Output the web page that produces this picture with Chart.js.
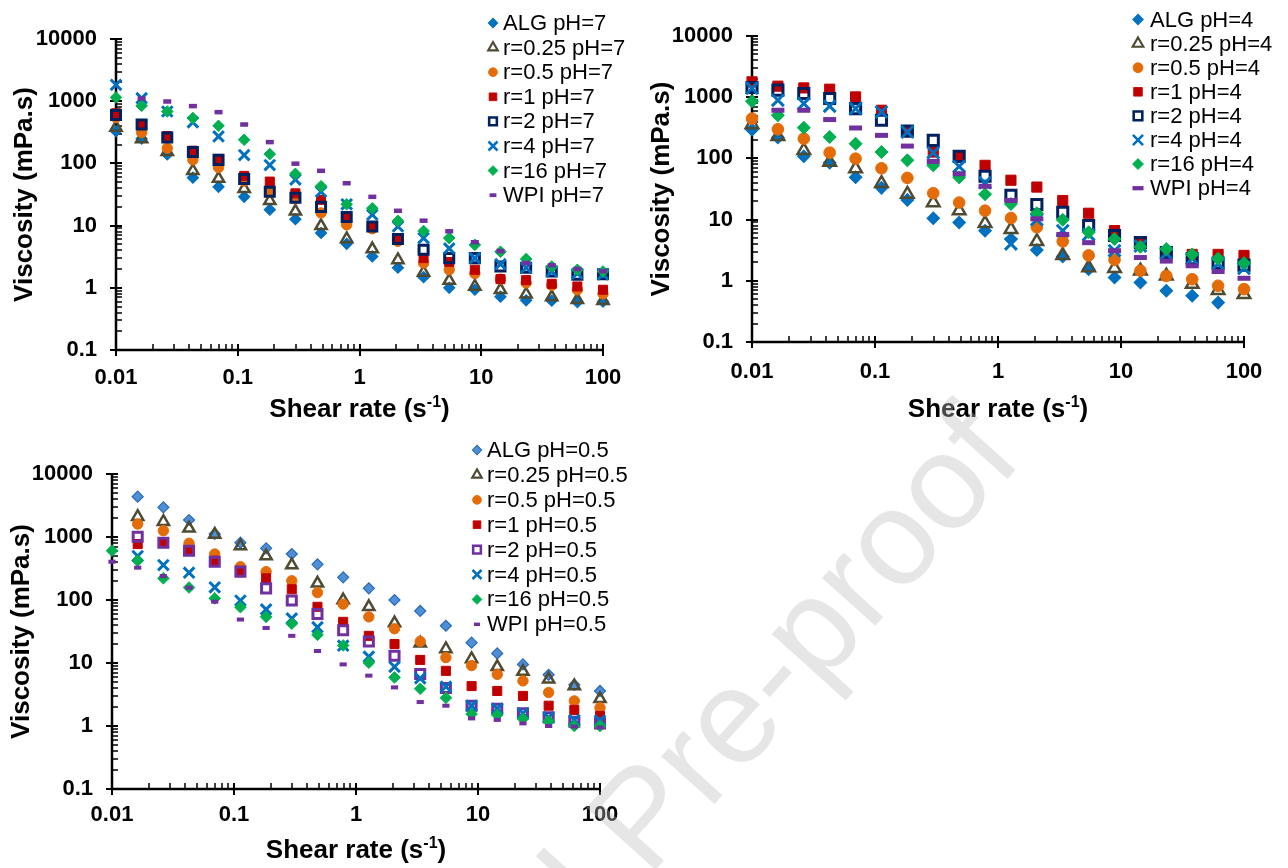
<!DOCTYPE html>
<html>
<head>
<meta charset="utf-8">
<title>Viscosity vs shear rate</title>
<script src="https://cdn.jsdelivr.net/npm/chart.js@4.4.1/dist/chart.umd.min.js"></script>
<style>
  body { margin: 0; width: 1288px; height: 868px; overflow: hidden; position: relative; background: #fff; }
  canvas { position: absolute; }
  #wm { position: absolute; left: 0; top: 0; pointer-events: none; }
</style>
</head>
<body>
<canvas id="ph7" width="644" height="430" style="left:0px;top:0px"></canvas>
<canvas id="ph4" width="648" height="430" style="left:640px;top:0px"></canvas>
<canvas id="ph05" width="644" height="438" style="left:0px;top:430px"></canvas>
<svg id="wm" width="1288" height="868">
  <g transform="rotate(-48 648 878)" font-family="Arial, 'Liberation Sans', sans-serif" font-size="135" fill="#bdbdbd" fill-opacity="0.38">
    <text x="610" y="878" text-anchor="end">Journal</text>
    <text x="648" y="878">Pre-proof</text>
  </g>
</svg>
<script>
// shear rate (1/s), 20 points log ramp 0.01 -> 100
var shearRate = [0.01, 0.01624, 0.02637, 0.04281, 0.06952, 0.1129, 0.1833, 0.2976, 0.4833, 0.7848,
                 1.274, 2.069, 3.360, 5.456, 8.859, 14.38, 23.36, 37.93, 61.58, 100];
var shearTicks = [0.01, 0.1, 1, 10, 100];
var viscTicks = [0.1, 1, 10, 100, 1000, 10000];
var seriesNames = ["ALG", "r=0.25", "r=0.5", "r=1", "r=2", "r=4", "r=16", "WPI"];

// viscosity (mPa.s) at pH 7
var alg7   = [330, 250, 139, 59, 42, 29, 18, 12.7, 7.6, 5.1, 3.2, 2.1, 1.48, 1.0, 0.93, 0.72, 0.63, 0.62, 0.59, 0.6];
var r025_7 = [378, 246, 154, 76, 57, 39, 25, 17, 9.9, 6.1, 4.2, 2.8, 1.76, 1.31, 1.05, 0.93, 0.79, 0.71, 0.64, 0.62];
var r05_7  = [550, 313, 176, 114, 86, 52, 34, 27, 16, 10.3, 8.9, 5.6, 2.5, 1.95, 1.7, 1.38, 1.2, 1.1, 0.93, 0.8];
var r1_7   = [640, 430, 275, 160, 118, 63, 51, 33, 26, 13.7, 9.5, 6.0, 3.0, 2.6, 1.95, 1.38, 1.33, 1.16, 1.05, 0.93];
var r2_7   = [600, 422, 261, 152, 114, 56, 35, 28, 20, 13.7, 9.7, 6.1, 4.1, 3.0, 3.0, 2.2, 2.1, 1.83, 1.62, 1.65];
var r4_7   = [1836, 1120, 683, 457, 271, 136, 94, 55, 35, 22, 15, 9.7, 6.3, 4.3, 3.0, 2.4, 2.1, 1.83, 1.7, 1.65];
var r16_7  = [1148, 843, 683, 535, 402, 240, 141, 68, 43, 22, 19, 11.9, 8.2, 6.3, 4.9, 3.8, 2.9, 2.2, 1.95, 1.83];
var wpi7   = [null, 1100, 989, 834, 667, 422, 220, 99, 76, 48, 29, 17.3, 12, 8.1, 5.4, 3.9, 2.5, 2.3, 2.0, 1.85];

// viscosity (mPa.s) at pH 4
var alg4   = [295, 220, 108, 85, 49, 33, 21, 10.5, 9.0, 6.6, 4.8, 3.2, 2.5, 1.55, 1.13, 0.94, 0.69, 0.57, 0.44, null];
var r025_4 = [357, 230, 135, 87, 68, 39, 26, 19, 14, 8.7, 6.9, 4.4, 2.6, 1.65, 1.6, 1.45, 1.2, 0.88, 0.7, 0.6];
var r05_4  = [447, 299, 210, 124, 99, 69, 48, 27, 19, 14, 10.6, 7.5, 4.4, 2.6, 2.2, 1.46, 1.2, 1.06, 0.83, 0.73];
var r1_4   = [1782, 1514, 1419, 1352, 1011, 612, 270, 127, 108, 77, 44, 34, 20.5, 12.7, 6.6, 4.0, 3.0, 2.7, 2.7, 2.6];
var r2_4   = [1442, 1303, 1150, 951, 652, 420, 280, 197, 108, 51, 25, 17.6, 13.2, 8.0, 5.5, 4.2, 2.9, 2.3, 1.95, 1.8];
var r4_4   = [1400, 893, 788, 712, 652, 575, 270, 124, 74, 40, 4.0, 10, 6.6, 5.7, 3.1, 3.7, 2.8, 2.3, 1.9, 1.6];
var r16_4  = [860, 507, 318, 224, 174, 127, 93, 77, 49, 26, 18, 12.7, 9.9, 6.2, 4.8, 3.6, 3.3, 2.7, 2.3, 1.95];
var wpi4   = [null, 612, 612, 431, 314, 238, 159, 89, 56, 35, 20.5, 10.3, 5.7, 4.2, 3.1, 2.4, 2.1, 1.76, 1.42, 1.1];

// viscosity (mPa.s) at pH 0.5
var alg05   = [null, 4365, 2958, 1862, 1116, 813, 661, 537, 368, 229, 153, 100, 67, 39, 21, 14.2, 9.5, 6.5, 4.5, 3.6];
var r025_05 = [null, 2103, 1750, 1374, 1100, 719, 499, 359, 184, 100, 78, 43, 20.5, 16.7, 11.6, 8.7, 7.3, 5.5, 4.3, 2.7];
var r05_05  = [null, 1608, 1259, 794, 537, 338, 282, 202, 131, 86, 54, 35, 22, 12.2, 9.1, 6.6, 5.2, 3.4, 2.5, 1.95];
var r1_05   = [null, 774, 813, 620, 420, 280, 221, 148, 78, 45, 27, 20, 11.2, 7.5, 4.3, 3.6, 3.0, 2.1, 1.8, 1.44];
var r2_05   = [null, 1012, 813, 607, 405, 282, 153, 98, 60, 33, 22, 13, 6.7, 4.0, 2.1, 1.88, 1.59, 1.37, 1.17, 1.1];
var r4_05   = [null, 499, 359, 271, 159, 98, 71, 51, 37, 18.8, 12.6, 8.7, 5.7, 4.2, 2.1, 1.88, 1.59, 1.37, 1.24, 1.22];
var r16_05  = [607, 421, 221, 158, 106, 77, 54, 42, 28, 19, 10.1, 5.9, 3.9, 2.8, 1.55, 1.5, 1.3, 1.2, 1.0, 1.0];
var wpi05   = [405, 326, 240, 157, 94, 49, 36, 27, 15.5, 9.5, 6.3, 4.1, 2.4, 2.1, 1.32, 1.25, 1.1, 1.0, 0.98, 0.95];

var FONT = "Arial, 'Liberation Sans', sans-serif";

function styleSet(k, algFill, algLine, sqColor) {
  return [
    { shape: "rectRot",  r: 5.5 * k, fill: algFill, line: algLine, bw: 1.2 },
    { shape: "triangle", r: 6.5 * k, fill: "rgba(255,255,255,0)", line: "#4F4B33", bw: 2.5 },
    { shape: "circle",   r: 5.2 * k, fill: "#E36C09", line: "#E36C09", bw: 1 },
    { shape: "rect",     r: 6.4 * k, fill: "#C00000", line: "#C00000", bw: 1 },
    { shape: "rect",     r: 6.4 * k, fill: "rgba(255,255,255,0)", line: sqColor, bw: 3 },
    { shape: "crossRot", r: 7.5 * k, fill: "#0070C0", line: "#0070C0", bw: 3 },
    { shape: "rectRot",  r: 5.8 * k, fill: "#00B050", line: "#00B050", bw: 1 },
    { shape: "line",     r: 4 * k,   fill: "#7030A0", line: "#7030A0", bw: 4.5 }
  ];
}

var styles4 = styleSet(1.12, "#0070C0", "#0070C0", "#002060");
styles4[7] = { shape: "line", r: 6.5, fill: "#7030A0", line: "#7030A0", bw: 5 };

var panels = {
  ph7: {
    ph: "7", series: [alg7, r025_7, r05_7, r1_7, r2_7, r4_7, r16_7, wpi7],
    styles: styleSet(1, "#0070C0", "#0070C0", "#002060"),
    yWidth: 116, xHeight: 80, padTop: 39, padRight: 41, xTickPad: 15, yTitlePad: 9,
    titleY: 408, legend: { mx: 493, tx: 503, y: 23, dy: 24.6 }
  },
  ph4: {
    ph: "4", series: [alg4, r025_4, r05_4, r1_4, r2_4, r4_4, r16_4, wpi4],
    styles: styles4,
    yWidth: 112, xHeight: 88, padTop: 36, padRight: 44, xTickPad: 17, yTitlePad: 6,
    titleY: 408, legend: { mx: 498, tx: 510, y: 19.5, dy: 24.1 }
  },
  ph05: {
    ph: "0.5", series: [alg05, r025_05, r05_05, r1_05, r2_05, r4_05, r16_05, wpi05],
    styles: styleSet(1, "#4F8FD6", "#2A6AB8", "#7030A0"),
    yWidth: 112, xHeight: 79, padTop: 44, padRight: 44, xTickPad: 13, yTitlePad: 6,
    titleY: 419, legend: { mx: 477, tx: 487, y: 20, dy: 24.9 }
  }
};
panels.ph05.styles[7] = { shape: "line", r: 3.6, fill: "#7030A0", line: "#7030A0", bw: 4 };

function drawMarker(ctx, st, x, y, k) {
  ctx.fillStyle = st.fill;
  ctx.strokeStyle = st.line;
  ctx.lineWidth = st.bw * k;
  Chart.helpers.drawPoint(ctx, { pointStyle: st.shape, radius: st.r * k, rotation: 0, borderWidth: st.bw }, x, y);
}

var decor = {
  id: "decor",
  beforeDatasetsDraw: function (chart) {
    var ctx = chart.ctx, a = chart.chartArea;
    var xs = chart.scales.x, ys = chart.scales.y;
    var e, k, px, py;
    ctx.save();
    ctx.strokeStyle = "#000";
    // minor ticks, inside
    ctx.lineWidth = 1.5;
    ctx.beginPath();
    for (e = -2; e < 2; e++) {
      for (k = 2; k < 10; k++) {
        px = Math.round(xs.getPixelForValue(k * Math.pow(10, e)));
        ctx.moveTo(px, a.bottom);
        ctx.lineTo(px, a.bottom - 6);
      }
    }
    for (e = -1; e < 4; e++) {
      for (k = 2; k < 10; k++) {
        py = Math.round(ys.getPixelForValue(k * Math.pow(10, e)));
        ctx.moveTo(a.left, py);
        ctx.lineTo(a.left + 6, py);
      }
    }
    ctx.stroke();
    // major ticks, crossing
    ctx.lineWidth = 2;
    ctx.beginPath();
    shearTicks.forEach(function (v) {
      px = Math.round(xs.getPixelForValue(v));
      ctx.moveTo(px, a.bottom - 6);
      ctx.lineTo(px, a.bottom + 6);
    });
    viscTicks.forEach(function (v) {
      py = Math.round(ys.getPixelForValue(v));
      ctx.moveTo(a.left - 6, py);
      ctx.lineTo(a.left + 6, py);
    });
    ctx.stroke();
    ctx.lineWidth = 2.5;
    ctx.beginPath();
    ctx.moveTo(a.left, a.top);
    ctx.lineTo(a.left, a.bottom);
    ctx.lineTo(a.right + 1, a.bottom);
    ctx.stroke();
    ctx.restore();
  },
  afterDraw: function (chart) {
    var p = panels[chart.canvas.id];
    var ctx = chart.ctx, a = chart.chartArea;
    ctx.save();
    // legend
    var lg = p.legend;
    ctx.font = "22px " + FONT;
    ctx.textBaseline = "middle";
    ctx.textAlign = "left";
    chart.data.datasets.forEach(function (ds, i) {
      var y = lg.y + i * lg.dy;
      drawMarker(ctx, p.styles[i], lg.mx, y, 0.85);
      ctx.fillStyle = "#000";
      ctx.fillText(ds.label, lg.tx, y + 1);
    });
    // x axis title with superscript
    var main = "Shear rate (s", sup = "-1", close = ")";
    ctx.font = "bold 26px " + FONT;
    var w1 = ctx.measureText(main).width, w3 = ctx.measureText(close).width;
    ctx.font = "bold 16px " + FONT;
    var w2 = ctx.measureText(sup).width;
    var x0 = (a.left + a.right) / 2 - (w1 + w2 + w3) / 2;
    var base = p.titleY + 9;
    ctx.textBaseline = "alphabetic";
    ctx.fillStyle = "#000";
    ctx.font = "bold 26px " + FONT;
    ctx.fillText(main, x0, base);
    ctx.fillText(close, x0 + w1 + w2, base);
    ctx.font = "bold 16px " + FONT;
    ctx.fillText(sup, x0 + w1, base - 10);
    ctx.restore();
  }
};

function makeDatasets(p) {
  return p.series.map(function (vals, i) {
    var st = p.styles[i];
    var pts = [];
    vals.forEach(function (v, j) {
      if (v !== null) pts.push({ x: shearRate[j], y: v });
    });
    return {
      label: seriesNames[i] + " pH=" + p.ph,
      data: pts,
      order: 7 - i,
      clip: false,
      pointStyle: st.shape,
      pointRadius: st.r,
      pointHoverRadius: st.r,
      pointBackgroundColor: st.fill,
      pointBorderColor: st.line,
      pointBorderWidth: st.bw,
      backgroundColor: st.fill,
      borderColor: st.line
    };
  });
}

function fmt(v) { return String(v); }

Object.keys(panels).forEach(function (id) {
  var p = panels[id];
  new Chart(document.getElementById(id), {
    type: "scatter",
    data: { datasets: makeDatasets(p) },
    options: {
      responsive: false,
      animation: false,
      devicePixelRatio: 1,
      events: [],
      layout: { padding: { top: p.padTop, right: p.padRight, left: 0, bottom: 0 } },
      plugins: { legend: { display: false }, tooltip: { enabled: false } },
      scales: {
        x: {
          type: "logarithmic", position: "bottom", min: 0.01, max: 100,
          grid: { display: false, drawTicks: false },
          border: { display: false },
          ticks: {
            color: "#000", padding: p.xTickPad, maxRotation: 0, autoSkip: false,
            font: { family: FONT, size: 22, weight: "bold" }, callback: fmt
          },
          afterBuildTicks: function (s) { s.ticks = shearTicks.map(function (v) { return { value: v }; }); },
          afterFit: function (s) { s.height = p.xHeight; }
        },
        y: {
          type: "logarithmic", position: "left", min: 0.1, max: 10000,
          grid: { display: false, drawTicks: false },
          border: { display: false },
          ticks: {
            color: "#000", padding: 19, autoSkip: false,
            font: { family: FONT, size: 22, weight: "bold" }, callback: fmt
          },
          title: {
            display: true, text: "Viscosity (mPa.s)", color: "#000",
            font: { family: FONT, size: 26, weight: "bold" },
            padding: { top: p.yTitlePad, bottom: 0 }
          },
          afterBuildTicks: function (s) { s.ticks = viscTicks.map(function (v) { return { value: v }; }); },
          afterFit: function (s) { s.width = p.yWidth; }
        }
      }
    },
    plugins: [decor]
  });
});
</script>
</body>
</html>
